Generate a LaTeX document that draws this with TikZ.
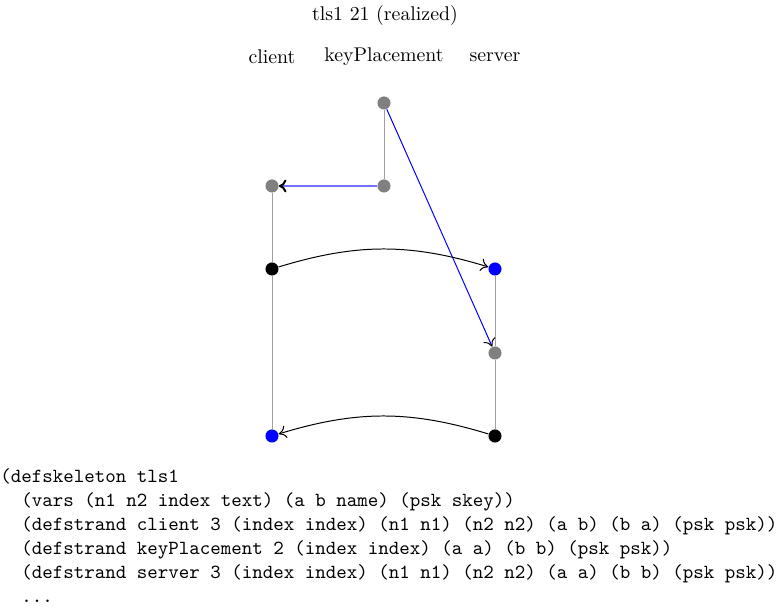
\documentclass[tikz,border=0pt]{standalone}
\usepackage{tikz}
\usetikzlibrary{arrows.meta}
\definecolor{cgrey}{HTML}{808080}
\definecolor{cline}{HTML}{A0A0A0}
\tikzset{
 evt/.style={circle, inner sep=0pt, minimum size=6.6pt},
 evgrey/.style={evt, fill=cgrey},
 evblack/.style={evt, fill=black},
 evblue/.style={evt, fill=blue},
 strand/.style={draw=cline, line width=0.5pt},
 msg/.style={-{Computer Modern Rightarrow[length=3.8pt,width=6.5pt,color=black]}, draw=black, line width=0.5pt},
 keyblue/.style={-{Computer Modern Rightarrow[length=3.8pt,width=6.5pt,color=black]}, draw=blue, line width=0.5pt},
 keylite/.style={-{Computer Modern Rightarrow[length=3.8pt,width=6.5pt,color=black]}, draw=blue!55, line width=1pt},
 hdr/.style={font=\normalsize, inner sep=0pt},
}

\begin{document}
\begin{tikzpicture}[x=0.504pt, y=0.504pt]
 \useasboundingbox (0,0) rectangle (778,611);
 % title and strand names
 \node[hdr] (title) at (385,595) {tls1 21 (realized)};
 \node[hdr] (hclient) at (272,554) {client};
 \node[hdr] (hkey) at (384,554) {keyPlacement};
 \node[hdr] (hserver) at (495,554) {server};

 % events
 \node[evgrey] (k1) at (384,508) {};
 \node[evgrey] (k2) at (384,425) {};
 \node[evgrey] (c1) at (272,425) {};
 \node[evblack] (c2) at (272,342) {};
 \node[evblue] (c3) at (272,175) {};
 \node[evblue] (s1) at (495,342) {};
 \node[evgrey] (s2) at (495,258) {};
 \node[evblack] (s3) at (495,175) {};

 % strands
 \draw[strand] (k1) -- (k2);
 \draw[strand] (c1) -- (c2) -- (c3);
 \draw[strand] (s1) -- (s2) -- (s3);

 % messages
 \draw[keylite] (k2) -- (c1);
 \draw[keyblue] (k1) -- (s2);
 \draw[msg] (c2) to[bend left=17] (s1);
 \draw[msg] (s3) to[bend right=17] (c3);

 % skeleton text
 \node[anchor=base west, inner sep=0pt, align=left, font=\ttfamily\fontsize{10.08}{12.1}\selectfont] (skel) at (0,8)
 {(defskeleton tls1\\
 \phantom{xx}(vars (n1 n2 index text) (a b name) (psk skey))\\
 \phantom{xx}(defstrand client 3 (index index) (n1 n1) (n2 n2) (a b) (b a) (psk psk))\\
 \phantom{xx}(defstrand keyPlacement 2 (index index) (a a) (b b) (psk psk))\\
 \phantom{xx}(defstrand server 3 (index index) (n1 n1) (n2 n2) (a a) (b b) (psk psk))\\
 \phantom{xx}...};
\end{tikzpicture}
\end{document}
